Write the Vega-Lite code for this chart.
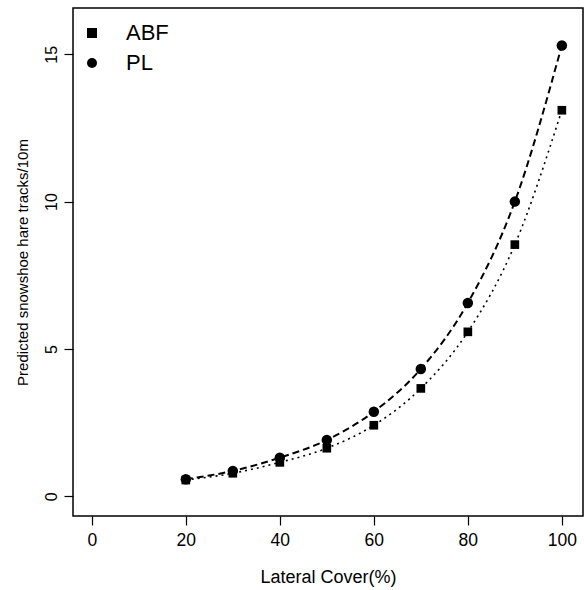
{
  "$schema": "https://vega.github.io/schema/vega-lite/v6.json",
  "width": 510,
  "height": 508,
  "autosize": "none",
  "padding": {"left": 73, "top": 8, "right": 1, "bottom": 74},
  "background": "white",
  "config": {
    "font": "Liberation Sans",
    "view": {"stroke": "black", "strokeWidth": 1.5},
    "axis": {"grid": false, "domain": false, "tickColor": "black", "labelColor": "black", "titleColor": "black", "labelFont": "Liberation Sans", "titleFont": "Liberation Sans", "titleFontWeight": "normal", "labelFontSize": 16, "titleFontSize": 16, "tickWidth": 1.2}
  },
  "data": {
    "values": [
      {"cover": 20, "tracks": 0.55, "type": "ABF"},
      {"cover": 30, "tracks": 0.78, "type": "ABF"},
      {"cover": 40, "tracks": 1.15, "type": "ABF"},
      {"cover": 50, "tracks": 1.63, "type": "ABF"},
      {"cover": 60, "tracks": 2.41, "type": "ABF"},
      {"cover": 70, "tracks": 3.66, "type": "ABF"},
      {"cover": 80, "tracks": 5.58, "type": "ABF"},
      {"cover": 90, "tracks": 8.54, "type": "ABF"},
      {"cover": 100, "tracks": 13.1, "type": "ABF"},
      {"cover": 20, "tracks": 0.58, "type": "PL"},
      {"cover": 30, "tracks": 0.86, "type": "PL"},
      {"cover": 40, "tracks": 1.31, "type": "PL"},
      {"cover": 50, "tracks": 1.91, "type": "PL"},
      {"cover": 60, "tracks": 2.87, "type": "PL"},
      {"cover": 70, "tracks": 4.32, "type": "PL"},
      {"cover": 80, "tracks": 6.56, "type": "PL"},
      {"cover": 90, "tracks": 10.0, "type": "PL"},
      {"cover": 100, "tracks": 15.3, "type": "PL"}
    ]
  },
  "encoding": {
    "x": {
      "field": "cover", "type": "quantitative",
      "scale": {"domain": [-4, 104.5], "nice": false, "zero": false},
      "axis": {"values": [0, 20, 40, 60, 80, 100], "title": "Lateral Cover(%)", "labelFontSize": 17.5, "titleFontSize": 18, "tickSize": 9, "labelPadding": 6, "titleY": 61, "titleBaseline": "middle"}
    },
    "y": {
      "field": "tracks", "type": "quantitative",
      "scale": {"domain": [-0.67, 16.57], "nice": false, "zero": false},
      "axis": {"values": [0, 5, 10, 15], "title": "Predicted snowshoe hare tracks/10m", "titleFontSize": 15, "labelFontSize": 16, "tickSize": 9, "labelPadding": 5, "labelAngle": -90, "labelAlign": "center", "labelBaseline": "bottom", "titleX": -51, "titleY": 254, "titleAngle": -90, "titleAlign": "center", "titleBaseline": "middle"}
    }
  },
  "layer": [
    {
      "transform": [{"filter": "datum.type === 'ABF'"}],
      "mark": {"type": "line", "interpolate": "monotone", "color": "black", "strokeDash": [2, 4], "strokeWidth": 1.6},
      "encoding": {}
    },
    {
      "transform": [{"filter": "datum.type === 'PL'"}],
      "mark": {"type": "line", "interpolate": "monotone", "color": "black", "strokeDash": [7, 4], "strokeWidth": 2},
      "encoding": {}
    },
    {
      "transform": [{"filter": "datum.type === 'ABF'"}],
      "mark": {"type": "point", "filled": true, "color": "black", "opacity": 1, "size": 75},
      "encoding": {
        "shape": {"field": "type", "type": "nominal", "scale": {"domain": ["ABF", "PL"], "range": ["square", "circle"]},
          "legend": {"title": null, "orient": "none", "legendX": 8, "legendY": 14, "labelFontSize": 22, "labelFont": "Liberation Sans", "labelColor": "black", "symbolSize": 100, "symbolFillColor": "black", "symbolStrokeWidth": 0, "symbolType": "circle", "labelOffset": 23, "rowPadding": 8, "padding": 0}}
      }
    },
    {
      "transform": [{"filter": "datum.type === 'PL'"}],
      "mark": {"type": "point", "filled": true, "color": "black", "opacity": 1, "size": 110},
      "encoding": {
        "shape": {"field": "type", "type": "nominal", "scale": {"domain": ["ABF", "PL"], "range": ["square", "circle"]}}
      }
    }
  ]
}
